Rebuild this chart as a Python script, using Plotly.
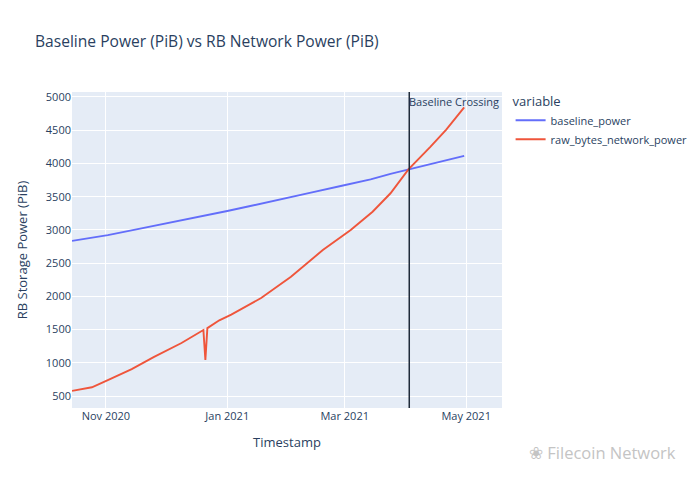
import plotly.graph_objects as go

# Values
baseline_dates = ["2020-10-15", "2020-11-02", "2020-11-17", "2020-12-02", "2020-12-17",
                  "2021-01-01", "2021-01-12", "2021-01-23", "2021-02-02", "2021-02-12",
                  "2021-02-27", "2021-03-14", "2021-03-24", "2021-04-02", "2021-04-15",
                  "2021-04-30"]
baseline_power = [2835, 2922, 3012, 3100, 3192,
                  3284, 3355, 3424, 3492, 3560,
                  3660, 3760, 3843, 3912, 4006,
                  4115]

rb_dates = ["2020-10-15", "2020-10-25", "2020-11-02", "2020-11-14", "2020-11-25",
            "2020-12-09", "2020-12-20", "2020-12-21", "2020-12-22", "2020-12-28",
            "2021-01-03", "2021-01-18", "2021-02-02", "2021-02-18", "2021-03-04",
            "2021-03-15", "2021-03-24", "2021-04-02", "2021-04-13",
            "2021-04-21", "2021-04-30"]
raw_bytes_network_power = [578, 632, 740, 905, 1085,
                           1298, 1493, 1045, 1522, 1640,
                           1725, 1975, 2296, 2697, 2998,
                           3274, 3551, 3910, 4250,
                           4510, 4845]

crossing_date = "2021-04-02 10:00"
x_range = ["2020-10-15", "2021-05-19"]
y_range = [320, 5075]

fig = go.Figure()
fig.add_trace(go.Scatter(x=baseline_dates, y=baseline_power, mode="lines",
                         name="baseline_power", line=dict(color="#636efa", width=1.9)))
fig.add_trace(go.Scatter(x=rb_dates, y=raw_bytes_network_power, mode="lines",
                         name="raw_bytes_network_power", line=dict(color="#EF553B", width=1.9)))

fig.add_shape(type="line", x0=crossing_date, x1=crossing_date, xref="x",
              y0=0, y1=1, yref="paper", line=dict(color="#1f2b3a", width=1.5))
fig.add_annotation(x=crossing_date, y=1, xref="x", yref="paper", text="Baseline Crossing",
                   showarrow=False, xanchor="left", yanchor="top", xshift=-2,
                   font=dict(size=11, color="#2a3f5f"))

# The page body has an 8px margin, so margins are offset to compensate
fig.update_layout(
    template="plotly",
    width=700, height=481,
    font=dict(size=11),
    margin=dict(l=64, r=206, t=84, b=81),
    title=dict(text="Baseline Power (PiB) vs RB Network Power (PiB)",
               x=27 / 700, xanchor="left", xref="container",
               y=1 - 34 / 481, yanchor="middle", yref="container",
               font=dict(size=15.6)),
    legend=dict(title=dict(text="variable"), x=1.02, y=1.01, yanchor="top"),
    xaxis=dict(title=dict(text="Timestamp"), range=x_range, automargin=False),
    yaxis=dict(title=dict(text="RB Storage Power (PiB)"), range=y_range, dtick=500,
               automargin=False),
)
fig.add_annotation(x=1.409, y=-0.142, xref="paper", yref="paper",
                   text="\u2740 Filecoin Network", showarrow=False,
                   xanchor="right", yanchor="middle",
                   font=dict(size=16.5, color="#c4c4c4"))

fig.write_html("out.html")
